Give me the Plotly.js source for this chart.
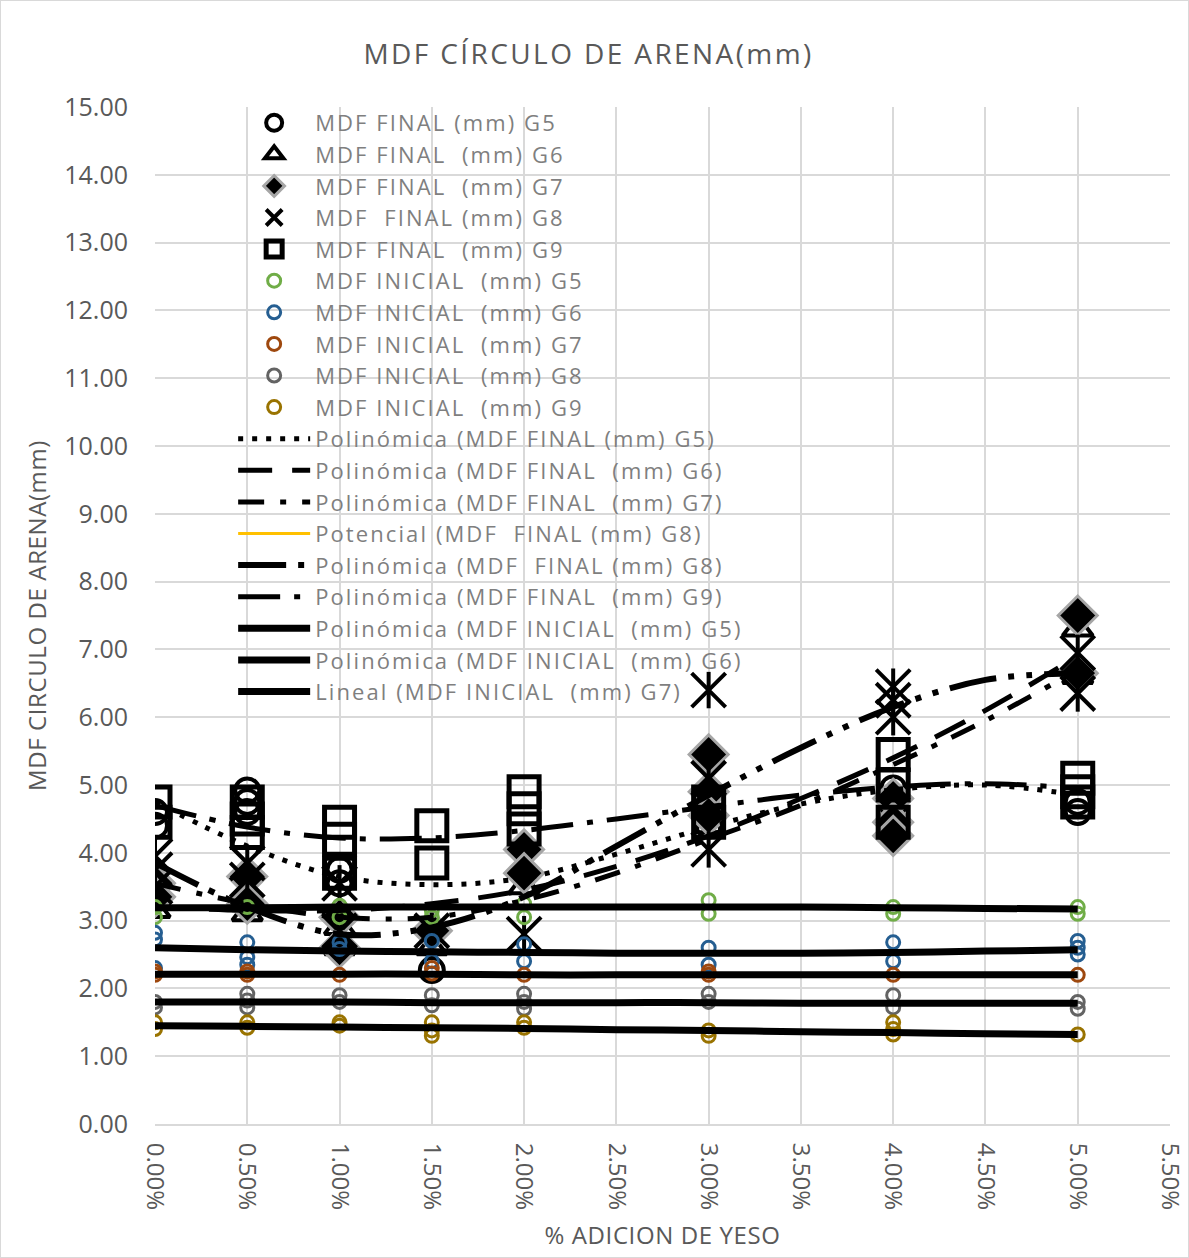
<!DOCTYPE html>
<html>
<head>
<meta charset="utf-8">
<script src="https://cdn.plot.ly/plotly-3.0.1.min.js"></script>
<style>
  html, body { margin: 0; padding: 0; background: #fff; }
  #chart { width: 1187px; height: 1256px; border: 1px solid #d9d9d9; }
  #chart .legendtext { letter-spacing: 2.1px; }
  #chart .legend .scrollbox { clip-path: none !important; }
  #chart .legend { overflow: visible; }
  #chart .gtitle { letter-spacing: 2.4px; }
  #chart .ytitle { letter-spacing: 0.6px; }
  #chart .xtitle { letter-spacing: 0.6px; }
</style>
</head>
<body>
<div id="chart"></div>
<script>
// ---------- DATA ----------
const xTicks = [0, 0.5, 1, 1.5, 2, 2.5, 3, 3.5, 4, 4.5, 5, 5.5];

const finalG5X = [0, 0, 0.5, 0.5, 0.5, 1, 1, 1.5, 2, 3, 3, 4, 4, 5, 5];
const finalG5Y = [4.4, 4.6, 4.92, 4.75, 4.6, 3.75, 3.55, 2.27, 3.7, 4.6, 4.4, 4.95, 4.7, 4.75, 4.6];

const finalG6X = [0, 0, 0.5, 0.5, 1, 1, 1.5, 2, 3, 3, 4, 5, 5];
const finalG6Y = [3.3, 3.15, 3.25, 3.1, 2.6, 2.9, 2.6, 3.5, 4.4, 4.7, 4.5, 7.3, 6.6];

const finalG7X = [0, 0, 0.5, 0.5, 1, 1, 1.5, 2, 2, 3, 3, 3, 4, 4, 4, 5, 5];
const finalG7Y = [3.55, 3.35, 3.65, 3.25, 3.05, 2.6, 2.85, 4.05, 3.7, 5.45, 4.9, 4.55, 4.8, 4.45, 4.25, 7.5, 6.65];

const finalG8X = [0, 0, 0, 0.5, 0.5, 1, 1, 1.5, 2, 3, 3, 3, 4, 4, 4, 5, 5];
const finalG8Y = [3.95, 3.75, 3.5, 3.85, 3.6, 3.55, 2.85, 2.85, 2.8, 6.4, 5.1, 4.05, 6.45, 6.25, 6.0, 6.95, 6.35];

const finalG9X = [0, 0, 0.5, 0.5, 0.5, 1, 1, 1, 1.5, 1.5, 2, 2, 2, 3, 3, 4, 4, 4, 5, 5, 5];
const finalG9Y = [4.75, 4.45, 4.75, 4.5, 4.3, 4.45, 4.2, 3.7, 4.4, 3.85, 4.9, 4.65, 4.35, 4.75, 4.45, 5.45, 5.0, 4.45, 5.1, 4.9, 4.75];

const inicialG5X = [0, 0, 0.5, 1, 1, 1.5, 1.5, 2, 2, 3, 3, 4, 4, 5, 5];
const inicialG5Y = [3.2, 3.05, 3.2, 3.22, 3.05, 3.15, 3.05, 3.25, 3.05, 3.3, 3.1, 3.2, 3.1, 3.2, 3.1];

const inicialG6X = [0, 0, 0, 0.5, 0.5, 0.5, 1, 1, 1.5, 1.5, 2, 2, 3, 3, 4, 4, 5, 5, 5];
const inicialG6Y = [2.82, 2.72, 2.3, 2.68, 2.46, 2.35, 2.68, 2.58, 2.7, 2.4, 2.65, 2.4, 2.6, 2.35, 2.68, 2.4, 2.7, 2.6, 2.5];

const inicialG7X = [0, 0, 0.5, 0.5, 1, 1.5, 1.5, 2, 3, 3, 4, 5];
const inicialG7Y = [2.25, 2.2, 2.25, 2.2, 2.2, 2.3, 2.22, 2.2, 2.25, 2.2, 2.2, 2.2];

const inicialG8X = [0, 0, 0.5, 0.5, 0.5, 1, 1, 1.5, 1.5, 2, 2, 2, 3, 3, 4, 4, 5, 5];
const inicialG8Y = [1.8, 1.72, 1.92, 1.82, 1.72, 1.9, 1.8, 1.9, 1.75, 1.92, 1.8, 1.7, 1.92, 1.8, 1.9, 1.72, 1.8, 1.7];

const inicialG9X = [0, 0, 0.5, 0.5, 1, 1, 1.5, 1.5, 1.5, 2, 2, 3, 3, 4, 4, 4, 5];
const inicialG9Y = [1.5, 1.4, 1.5, 1.42, 1.5, 1.45, 1.5, 1.38, 1.3, 1.5, 1.42, 1.38, 1.3, 1.5, 1.4, 1.32, 1.32];

// trendline curves at these x positions
const trendX = [0, 0.5, 1, 1.5, 2, 2.5, 3, 3.5, 4, 4.5, 5];
const trendFinalG5 = [4.75, 4.1, 3.65, 3.53, 3.63, 3.98, 4.38, 4.72, 4.93, 5.0, 4.85];
const trendFinalG6 = [3.2, 3.15, 3.15, 3.25, 3.45, 3.8, 4.25, 4.8, 5.4, 6.1, 6.9];
const trendFinalG7 = [3.55, 3.25, 3.05, 3.05, 3.3, 3.7, 4.2, 4.7, 5.3, 5.95, 6.7];
const trendFinalG8 = [3.85, 3.2, 2.8, 2.9, 3.35, 4.1, 4.85, 5.55, 6.15, 6.55, 6.65];
const trendFinalG9 = [4.7, 4.38, 4.22, 4.22, 4.33, 4.5, 4.68, 4.85, 4.97, 5.02, 4.95];
const trendInicialG5 = [3.19, 3.19, 3.2, 3.2, 3.2, 3.2, 3.2, 3.2, 3.19, 3.18, 3.17];
const trendInicialG6 = [2.6, 2.57, 2.55, 2.54, 2.53, 2.52, 2.52, 2.52, 2.53, 2.55, 2.57];
const trendInicialG7 = [2.21, 2.21, 2.21, 2.21, 2.2, 2.2, 2.2, 2.2, 2.2, 2.2, 2.2];
const trendInicialG8 = [1.8, 1.8, 1.8, 1.79, 1.79, 1.79, 1.79, 1.78, 1.78, 1.78, 1.78];
const trendInicialG9 = [1.45, 1.44, 1.43, 1.42, 1.41, 1.39, 1.38, 1.36, 1.35, 1.33, 1.32];

const nb = '\u00a0';
const names = {
  fG5: 'MDF FINAL (mm) G5',
  fG6: 'MDF FINAL ' + nb + '(mm) G6',
  fG7: 'MDF FINAL ' + nb + '(mm) G7',
  fG8: 'MDF ' + nb + 'FINAL (mm) G8',
  fG9: 'MDF FINAL ' + nb + '(mm) G9',
  iG5: 'MDF INICIAL ' + nb + '(mm) G5',
  iG6: 'MDF INICIAL ' + nb + '(mm) G6',
  iG7: 'MDF INICIAL ' + nb + '(mm) G7',
  iG8: 'MDF INICIAL ' + nb + '(mm) G8',
  iG9: 'MDF INICIAL ' + nb + '(mm) G9'
};

// ---------- TRACES ----------
function pts(x, y, name, marker, extra) {
  return Object.assign({type: 'scatter', mode: 'markers', x: x, y: y, name: name, marker: marker}, extra || {});
}
function trend(y, name, line, extra) {
  return Object.assign({type: 'scatter', mode: 'lines', x: trendX, y: y, name: name,
    line: Object.assign({shape: 'spline', smoothing: 1}, line)}, extra || {});
}

const traces = [
  pts(finalG5X, finalG5Y, names.fG5, {symbol: 'circle-open', size: 24, color: '#000', line: {width: 4}}),
  pts(finalG6X, finalG6Y, names.fG6, {symbol: 'triangle-up-open', size: 26, color: '#000', line: {width: 4}}),
  pts(finalG7X, finalG7Y, names.fG7, {symbol: 'diamond', size: 30, color: '#000', line: {width: 3, color: '#a6a6a6'}}),
  pts(finalG8X, finalG8Y, names.fG8, {symbol: 'x-thin-open', size: 34, color: '#000', line: {width: 4}}, {legendgroup: 'g8'}),
  pts(finalG8X, finalG8Y, names.fG8, {symbol: 'line-ns-open', size: 26, color: '#000', line: {width: 4}}, {legendgroup: 'g8', showlegend: false}),
  pts(finalG9X, finalG9Y, names.fG9, {symbol: 'square-open', size: 30, color: '#000', line: {width: 5}}),
  pts(inicialG5X, inicialG5Y, names.iG5, {symbol: 'circle-open', size: 13, color: '#70ad47', line: {width: 3}}),
  pts(inicialG6X, inicialG6Y, names.iG6, {symbol: 'circle-open', size: 13, color: '#255e91', line: {width: 3}}),
  pts(inicialG7X, inicialG7Y, names.iG7, {symbol: 'circle-open', size: 13, color: '#9e480e', line: {width: 3}}),
  pts(inicialG8X, inicialG8Y, names.iG8, {symbol: 'circle-open', size: 13, color: '#636363', line: {width: 3}}),
  pts(inicialG9X, inicialG9Y, names.iG9, {symbol: 'circle-open', size: 13, color: '#997300', line: {width: 3}}),

  trend(trendFinalG5, 'Polinómica (' + names.fG5 + ')', {color: '#000', width: 5, dash: '5px,9px'}),
  trend(trendFinalG6, 'Polinómica (' + names.fG6 + ')', {color: '#000', width: 5, dash: '34px,20px'}),
  trend(trendFinalG7, 'Polinómica (' + names.fG7 + ')', {color: '#000', width: 5, dash: '26px,16px,6px,16px'}),
  {type: 'scatter', mode: 'lines', x: [null], y: [null], name: 'Potencial (' + names.fG8 + ')', line: {color: '#ffc000', width: 3}},
  trend(trendFinalG8, 'Polinómica (' + names.fG8 + ')', {color: '#000', width: 6, dash: '48px,12px,6px,12px,6px,12px'}),
  trend(trendFinalG9, 'Polinómica (' + names.fG9 + ')', {color: '#000', width: 5, dash: '42px,14px,6px,14px'}),
  trend(trendInicialG5, 'Polinómica (' + names.iG5 + ')', {color: '#000', width: 7}),
  trend(trendInicialG6, 'Polinómica (' + names.iG6 + ')', {color: '#000', width: 7}),
  trend(trendInicialG7, 'Lineal (' + names.iG7 + ')', {color: '#000', width: 7}),
  trend(trendInicialG8, 'Polinómica (' + names.iG8 + ')', {color: '#000', width: 7}, {showlegend: false}),
  trend(trendInicialG9, 'Polinómica (' + names.iG9 + ')', {color: '#000', width: 7}, {showlegend: false})
];

const fontFam = '"Open Sans", Lato, sans-serif';
const layout = {
  width: 1187, height: 1256,
  margin: {l: 154, r: 18, t: 106, b: 133},
  paper_bgcolor: '#fff', plot_bgcolor: '#fff',
  font: {family: fontFam, color: '#595959', size: 24},
  title: {text: 'MDF CÍRCULO DE ARENA(mm)', x: 0.495, xanchor: 'center', y: 0.958, yanchor: 'middle',
          font: {family: fontFam, size: 28, color: '#595959'}},
  showlegend: true,
  legend: {x: 0.077, y: 1.005, xanchor: 'left', yanchor: 'top', bgcolor: 'rgba(0,0,0,0)',
           font: {family: fontFam, size: 22, color: '#7f7f7f'}, itemwidth: 72, tracegroupgap: 0,
           traceorder: 'normal'},
  xaxis: {
    range: [0, 5.5], tickvals: xTicks, ticktext: xTicks.map(v => v.toFixed(2) + '%'),
    tickangle: 90, showgrid: true, gridcolor: '#d9d9d9', gridwidth: 2,
    showline: true, linecolor: '#d9d9d9', linewidth: 2, zeroline: false, ticks: '',
    ticklabelstandoff: 12, ticklabeloverflow: 'allow',
    tickfont: {family: fontFam, size: 24, color: '#595959'},
    title: {text: '% ADICION DE YESO', font: {family: fontFam, size: 24, color: '#595959'}, standoff: 18}
  },
  yaxis: {
    range: [0, 15], dtick: 1, tickformat: '.2f', showgrid: true, gridcolor: '#d9d9d9', gridwidth: 2,
    zeroline: false, showline: false, ticks: '',
    ticklabelstandoff: 26,
    tickfont: {family: fontFam, size: 25, color: '#595959'},
    title: {text: 'MDF CIRCULO DE ARENA(mm)', font: {family: fontFam, size: 24, color: '#595959'}, standoff: 10}
  }
};

Plotly.newPlot('chart', traces, layout, {displayModeBar: false, staticPlot: true});
</script>
</body>
</html>
